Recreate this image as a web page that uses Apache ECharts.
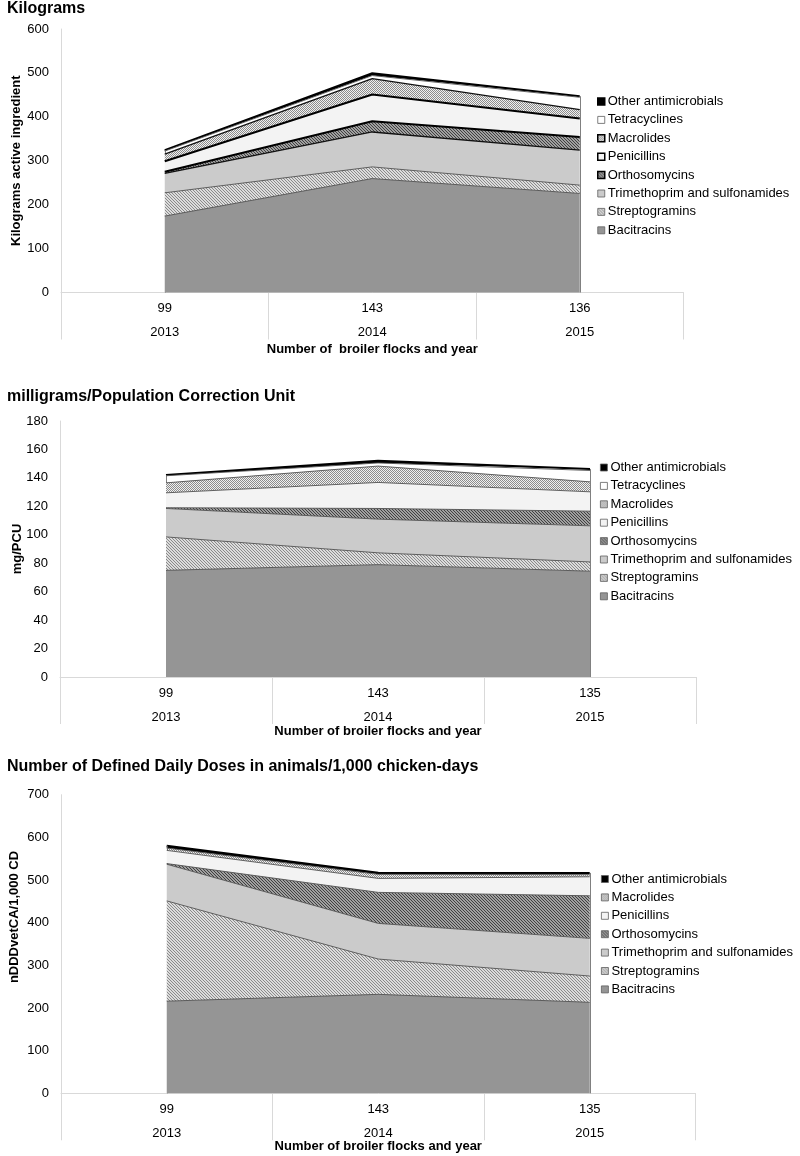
<!DOCTYPE html>
<html><head><meta charset="utf-8">
<script src="https://cdn.jsdelivr.net/npm/echarts@6/dist/echarts.min.js"></script>
<style>html,body{margin:0;padding:0;background:#fff}#c{width:800px;height:1156px}</style>
</head><body><div id="c"></div>
<script>
// ---------- data ----------
const years = ['2013', '2014', '2015'];
const flocksKg = ['99', '143', '136'];
const flocksPcu = ['99', '143', '135'];
const flocksDdd = ['99', '143', '135'];

const namesFull = ['Bacitracins', 'Streptogramins', 'Trimethoprim and sulfonamides', 'Orthosomycins',
  'Penicillins', 'Macrolides', 'Tetracyclines', 'Other antimicrobials'];
const namesDdd = ['Bacitracins', 'Streptogramins', 'Trimethoprim and sulfonamides', 'Orthosomycins',
  'Penicillins', 'Macrolides', 'Other antimicrobials'];

// Kilograms active ingredient
const kgBacitracins = [174, 259.5, 225.5];
const kgStreptogramins = [53, 26.5, 19];
const kgTrimethoprim = [44, 79.5, 79.5];
const kgOrthosomycins = [4, 24.5, 30];
const kgPenicillins = [24, 61, 42];
const kgMacrolides = [16, 36, 20.5];
const kgTetracyclines = [7, 7, 28];
const kgOther = [2, 5.5, 2.5];

// mg/PCU
const pcuBacitracins = [75, 79, 74.4];
const pcuStreptogramins = [23.5, 8.3, 6.5];
const pcuTrimethoprim = [20, 23.7, 25.4];
const pcuOrthosomycins = [0.5, 7.5, 10.3];
const pcuPenicillins = [10.5, 18.3, 13.6];
const pcuMacrolides = [7, 11.5, 7];
const pcuTetracyclines = [5, 2.2, 8];
const pcuOther = [0.5, 1.5, 1];

// nDDDvetCA/1,000 CD
const dddBacitracins = [216, 232, 213.3];
const dddStreptogramins = [235, 82.7, 61.6];
const dddTrimethoprim = [86, 83.6, 88.3];
const dddOrthosomycins = [1.5, 72.7, 99.8];
const dddPenicillins = [31, 32.8, 44.6];
const dddMacrolides = [5.5, 9.5, 5];
const dddOther = [5.5, 3.7, 4];

// ---------- patterns ----------
function hatch(bg, fg, s, dir, lw) {
  const c = document.createElement('canvas'); c.width = s; c.height = s;
  const g = c.getContext('2d');
  g.fillStyle = bg; g.fillRect(0, 0, s, s);
  g.strokeStyle = fg; g.lineWidth = lw || 1;
  g.beginPath();
  if (dir === '/') {
    g.moveTo(0, s); g.lineTo(s, 0);
    g.moveTo(-s / 2, s / 2); g.lineTo(s / 2, -s / 2);
    g.moveTo(s / 2, s * 1.5); g.lineTo(s * 1.5, s / 2);
  } else {
    g.moveTo(0, 0); g.lineTo(s, s);
    g.moveTo(-s / 2, s / 2); g.lineTo(s / 2, s * 1.5);
    g.moveTo(s / 2, -s / 2); g.lineTo(s * 1.5, s / 2);
  }
  g.stroke();
  return { image: c, repeat: 'repeat' };
}
function dots(bg, fg, s) {
  const c = document.createElement('canvas'); c.width = s; c.height = s;
  const g = c.getContext('2d');
  g.fillStyle = bg; g.fillRect(0, 0, s, s);
  g.fillStyle = fg; g.fillRect(0, 0, 1, 1); g.fillRect(Math.floor(s / 2), Math.floor(s / 2), 1, 1);
  return { image: c, repeat: 'repeat' };
}

const fills = {
  'Bacitracins': '#959595',
  'Streptogramins': hatch('#dcdcdc', '#8a8a8a', 3, '\\', 1),
  'Trimethoprim and sulfonamides': '#cbcbcb',
  'Orthosomycins': hatch('#a0a0a0', '#404040', 3, '\\', 1),
  'Penicillins': '#f3f3f3',
  'Macrolides': dots('#f0f0f0', '#8c8c8c', 2),
  'Tetracyclines': '#ffffff',
  'Other antimicrobials': '#000000'
};

const FONT = '"Liberation Sans", Arial, sans-serif';

function lineFor(chart, name) {
  if (name === 'Other antimicrobials') return { color: '#000', width: 2 };
  if (chart === 0 && (name === 'Penicillins' || name === 'Orthosomycins')) return { color: '#000', width: 2 };
  if (chart === 0 && (name === 'Macrolides' || name === 'Trimethoprim and sulfonamides')) return { color: '#111', width: 1.3 };
  return { color: '#505050', width: 0.9 };
}
function legendStrong(chart, name) {
  return chart === 0 && (name === 'Penicillins' || name === 'Orthosomycins' || name === 'Macrolides' || name === 'Other antimicrobials');
}

const charts = [
  { title: 'Kilograms', yName: 'Kilograms active ingredient', xName: 'Number of  broiler flocks and year',
    names: namesFull, flocks: flocksKg,
    data: [kgBacitracins, kgStreptogramins, kgTrimethoprim, kgOrthosomycins, kgPenicillins, kgMacrolides, kgTetracyclines, kgOther],
    max: 600, interval: 100,
    grid: { left: 61, top: 29, width: 622.5, height: 263.5 }, titleTop: 1, legendTop: 95, legendLeft: 597,
    yGap: 38, yPad: 0, xGap: 50 },
  { title: 'milligrams/Population Correction Unit', yName: 'mg/PCU', xName: 'Number of broiler flocks and year',
    names: namesFull, flocks: flocksPcu,
    data: [pcuBacitracins, pcuStreptogramins, pcuTrimethoprim, pcuOrthosomycins, pcuPenicillins, pcuMacrolides, pcuTetracyclines, pcuOther],
    max: 180, interval: 20,
    grid: { left: 60, top: 421, width: 636, height: 256 }, titleTop: 389, legendTop: 461, legendLeft: 600,
    yGap: 36, yPad: 0, xGap: 48 },
  { title: 'Number of Defined Daily Doses in animals/1,000 chicken-days', yName: 'nDDDvetCA/1,000 CD', xName: 'Number of broiler flocks and year',
    names: namesDdd, flocks: flocksDdd,
    data: [dddBacitracins, dddStreptogramins, dddTrimethoprim, dddOrthosomycins, dddPenicillins, dddMacrolides, dddOther],
    max: 700, interval: 100,
    grid: { left: 55.5, top: 794.7, width: 640, height: 298.6 }, titleTop: 759, legendTop: 872.5, legendLeft: 601,
    yGap: 40, yPad: 54, xGap: 47 }
];

const option = { animation: false, backgroundColor: '#fff', title: [], grid: [], xAxis: [], yAxis: [], legend: [], series: [] };

charts.forEach((ch, ci) => {
  option.title.push({ text: ch.title, left: 7, top: ch.titleTop, padding: 0,
    textStyle: { fontFamily: FONT, fontSize: 16, fontWeight: 'bold', color: '#000' } });
  option.grid.push(Object.assign({ containLabel: false }, ch.grid));
  option.xAxis.push({
    type: 'category', gridIndex: ci, boundaryGap: true,
    data: ch.flocks.map((f, i) => f + '\n' + years[i]),
    name: ch.xName, nameLocation: 'middle', nameGap: ch.xGap, nameMoveOverlap: false,
    nameTextStyle: { fontFamily: FONT, fontSize: 13, fontWeight: 'bold', color: '#000' },
    axisLine: { show: true, lineStyle: { color: '#d9d9d9', width: 1 } },
    axisTick: { show: true, interval: 0, length: 47, lineStyle: { color: '#d9d9d9', width: 1 } },
    axisLabel: { interval: 0, margin: 4, fontFamily: FONT, fontSize: 13, lineHeight: 24, color: '#000' },
    splitLine: { show: false }
  });
  option.yAxis.push({
    type: 'value', gridIndex: ci, min: 0, max: ch.max, interval: ch.interval,
    name: ch.yName, nameLocation: 'middle', nameGap: ch.yGap, nameMoveOverlap: false,
    nameTextStyle: { fontFamily: FONT, fontSize: 13, fontWeight: 'bold', color: '#000',
      padding: [0, 0, 0, ch.yPad] },
    axisLine: { show: true, lineStyle: { color: '#d9d9d9', width: 1 } },
    axisTick: { show: false },
    axisLabel: { margin: 12, fontFamily: FONT, fontSize: 13, color: '#000' },
    splitLine: { show: false }
  });
  const legendData = ch.names.slice().reverse().map(n => {
    const strong = legendStrong(ci, n);
    return { name: n, itemStyle: { color: fills[n], borderColor: strong ? '#000' : '#606060', borderWidth: strong ? 1.5 : 0.8 } };
  });
  option.legend.push({
    orient: 'vertical', left: ch.legendLeft, top: ch.legendTop, padding: 0,
    icon: 'rect', itemWidth: 7, itemHeight: 7, itemGap: 5.4, selectedMode: false,
    textStyle: { fontFamily: FONT, fontSize: 13, color: '#000', lineHeight: 13, padding: [0, 0, 0, -2] },
    data: legendData
  });
  const n = ch.names.length;
  const last = ch.flocks.length - 1;
  const totals = ch.flocks.map((_, i) => ch.data.reduce((s, arr) => s + arr[i], 0));
  ch.names.forEach((name, si) => {
    const s = {
      name: name, type: 'line', stack: 'g' + ci, xAxisIndex: ci, yAxisIndex: ci,
      data: ch.data[si], showSymbol: false, symbol: 'none', smooth: false,
      z: 2 + (n - si), silent: true,
      lineStyle: lineFor(ci, name),
      itemStyle: { color: fills[name] },
      areaStyle: { color: fills[name], opacity: 1 },
      emphasis: { disabled: true }
    };
    if (si === 0) {
      // outline the vertical edges of the stacked block
      s.markLine = {
        silent: true, symbol: ['none', 'none'], label: { show: false },
        lineStyle: { color: '#606060', width: 0.8, type: 'solid' },
        data: [
          [{ coord: [0, 0] }, { coord: [0, totals[0]] }],
          [{ coord: [last, 0] }, { coord: [last, totals[last]] }]
        ]
      };
    }
    option.series.push(s);
  });
});

const chart = echarts.init(document.getElementById('c'), null, { renderer: 'canvas' });
chart.setOption(option);
</script>
</body></html>
